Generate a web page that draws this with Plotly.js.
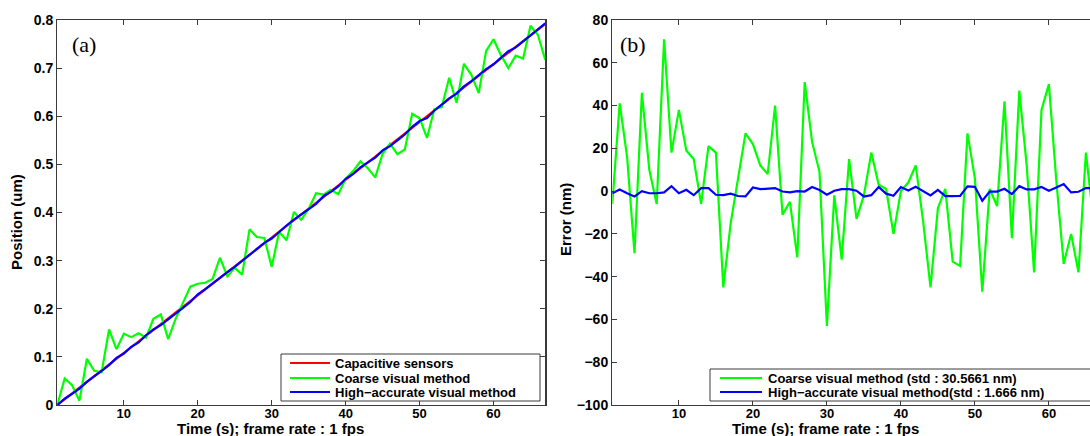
<!DOCTYPE html>
<html><head><meta charset="utf-8">
<script src="https://cdn.plot.ly/plotly-3.0.1.min.js"></script>
<style>html,body{margin:0;padding:0;overflow:hidden;background:#fff;width:1090px;height:436px}#chart{width:1110px;height:436px}</style>
</head><body><div id="chart"></div>
<script>
// ---- data ----
const time = [1,2,3,4,5,6,7,8,9,10,11,12,13,14,15,16,17,18,19,20,21,22,23,24,25,26,27,28,29,30,31,32,33,34,35,36,37,38,39,40,41,42,43,44,45,46,47,48,49,50,51,52,53,54,55,56,57,58,59,60,61,62,63,64,65,66,67];

// (a) positions in um
const capacitive = [0.000,0.012,0.024,0.036,0.048,0.060,0.072,0.084,0.096,0.108,0.120,0.132,0.144,0.156,0.168,0.180,0.192,0.204,0.216,0.228,0.240,0.252,0.264,0.276,0.288,0.300,0.312,0.324,0.336,0.348,0.360,0.372,0.384,0.396,0.408,0.420,0.432,0.444,0.456,0.468,0.480,0.492,0.504,0.516,0.528,0.540,0.552,0.564,0.576,0.588,0.600,0.612,0.624,0.636,0.648,0.660,0.672,0.684,0.696,0.708,0.720,0.732,0.744,0.756,0.768,0.780,0.792];
const coarsePos = [0.000,0.055,0.041,0.009,0.096,0.071,0.068,0.157,0.116,0.148,0.141,0.149,0.140,0.179,0.188,0.137,0.179,0.211,0.246,0.252,0.254,0.262,0.306,0.267,0.285,0.271,0.365,0.349,0.347,0.287,0.360,0.342,0.401,0.385,0.408,0.440,0.437,0.447,0.438,0.470,0.486,0.506,0.492,0.473,0.522,0.543,0.521,0.531,0.605,0.596,0.555,0.615,0.619,0.680,0.628,0.709,0.686,0.648,0.736,0.760,0.727,0.700,0.726,0.720,0.788,0.769,0.717];
const highPos = [0.000,0.013,0.023,0.034,0.048,0.059,0.071,0.083,0.098,0.107,0.121,0.130,0.145,0.157,0.166,0.178,0.191,0.202,0.214,0.230,0.241,0.253,0.265,0.276,0.287,0.300,0.312,0.326,0.337,0.346,0.360,0.373,0.385,0.396,0.406,0.418,0.434,0.443,0.454,0.470,0.480,0.494,0.504,0.514,0.529,0.538,0.550,0.562,0.578,0.590,0.596,0.612,0.624,0.637,0.647,0.662,0.673,0.685,0.698,0.708,0.722,0.735,0.743,0.756,0.769,0.781,0.793];

// (b) errors in nm
const coarseErr = [-6,41,16,-29,46,10,-6,71,18,38,19,15,-6,21,18,-45,-15,5,27,22,12,8,40,-11,-5,-31,51,23,9,-63,-2,-32,15,-13,-2,18,3,1,-20,0,4,12,-14,-45,-8,1,-33,-35,27,6,-47,1,-7,42,-22,47,12,-38,38,50,5,-34,-20,-38,18,-13,-75];
const highErr = [-1,0.8,-1,-2.5,0,-1,-1,-0.6,2.3,-1,0.6,-1.9,1.4,1.4,-1.7,-1.9,-1.2,-2.3,-2.5,1.7,0.9,1.1,1.4,-0.2,-0.6,0,-0.2,1.9,0.5,-1.7,0.2,0.9,0.9,0.2,-2.5,-1.9,1.9,-1.2,-2.2,1.9,0.3,2,-0.2,-2,0.6,-2.3,-2.3,-2.2,2.2,2,-4.5,-0.2,-0.2,1.1,-1.4,2.3,0.8,0.8,1.9,0.2,1.7,3.3,-0.6,-0.3,1.4,1.4,1];

const namesA = ['Capacitive sensors','Coarse visual method','High\u2212accurate visual method'];
const namesB = ['Coarse visual method (std : 30.5661 nm)','High\u2212accurate visual method(std : 1.666 nm)'];
const xTitle = 'Time (s); frame rate : 1 fps';
const yTitleA = 'Position (um)';
const yTitleB = 'Error (nm)';
const panelLabels = ['(a)','(b)'];
const xTicks = [10,20,30,40,50,60];

// ---- styling ----
const RED='rgb(255,0,0)', GREEN='rgb(0,255,0)', BLUE='rgb(0,0,255)';
const W=1110, H=436;
const px = x => x/W, py = y => 1 - y/H;
const FONT = 'Liberation Sans, Arial, Helvetica, sans-serif';
const LW = 2.2;

const traces = [
  {x:time, y:capacitive, xaxis:'x', yaxis:'y', mode:'lines', line:{color:RED,width:LW}, name:namesA[0]},
  {x:time, y:coarsePos, xaxis:'x', yaxis:'y', mode:'lines', line:{color:GREEN,width:LW}, name:namesA[1]},
  {x:time, y:highPos, xaxis:'x', yaxis:'y', mode:'lines', line:{color:BLUE,width:LW}, name:namesA[2]},
  {x:time, y:coarseErr, xaxis:'x2', yaxis:'y2', mode:'lines', line:{color:GREEN,width:LW}, name:namesB[0]},
  {x:time, y:highErr, xaxis:'x2', yaxis:'y2', mode:'lines', line:{color:BLUE,width:LW}, name:namesB[1]}
];

const axBase = {
  showgrid:false, zeroline:false, showline:true, linecolor:'#3a3a3a', linewidth:1.3,
  mirror:'ticks', ticks:'inside', ticklen:5, tickwidth:1, tickcolor:'#3a3a3a',
  tickfont:{family:FONT, size:14, color:'#000', weight:'bold'}, fixedrange:true
};
const xTickFont = {family:FONT, size:13, color:'#000', weight:'bold'};

const layout = {
  width:W, height:H, margin:{l:0,r:0,t:0,b:0}, paper_bgcolor:'#fff', plot_bgcolor:'#fff',
  showlegend:false,
  xaxis: Object.assign({}, axBase, {domain:[px(57.3), px(545.3)], range:[1,67], tickvals:xTicks, anchor:'y', ticklabelstandoff:-4, tickfont:xTickFont}),
  yaxis: Object.assign({}, axBase, {domain:[py(405), py(20)], range:[0,0.8], dtick:0.1, anchor:'x'}),
  xaxis2: Object.assign({}, axBase, {domain:[px(612.3), px(1100.7)], range:[1,67], tickvals:xTicks, anchor:'y2', ticklabelstandoff:-4, tickfont:xTickFont}),
  yaxis2: Object.assign({}, axBase, {domain:[py(405), py(20)], range:[-100,80], dtick:20, anchor:'x2'}),
  shapes: [],
  annotations: []
};

function ann(text, x, y, opts){
  return Object.assign({text:text, x:px(x), y:py(y), xref:'paper', yref:'paper', showarrow:false,
    xanchor:'center', yanchor:'middle', font:{family:FONT, size:15, color:'#000', weight:'bold'}}, opts||{});
}
// axis titles
layout.annotations.push(ann(xTitle, 270, 428, {yanchor:'middle'}));
layout.annotations.push(ann(xTitle, 825, 428, {yanchor:'middle'}));
layout.annotations.push(ann(yTitleA, 17, 222, {textangle:-90}));
layout.annotations.push(ann(yTitleB, 565, 220, {textangle:-90}));
// panel labels
layout.annotations.push(ann(panelLabels[0], 84, 44, {font:{family:'Liberation Serif, Times New Roman, serif', size:22, color:'#000'}, bgcolor:'#fff'}));
layout.annotations.push(ann(panelLabels[1], 633, 44, {font:{family:'Liberation Serif, Times New Roman, serif', size:22, color:'#000'}, bgcolor:'#fff'}));

// legends drawn manually
function legend(x0, x1, y0, y1, lineX0, lineX1, textX, rows, names, colors){
  layout.shapes.push({type:'rect', xref:'paper', yref:'paper', x0:px(x0), x1:px(x1), y0:py(y1), y1:py(y0),
    line:{color:'#3a3a3a', width:1}, fillcolor:'#fff', layer:'above'});
  names.forEach((n,i)=>{
    layout.shapes.push({type:'line', xref:'paper', yref:'paper', x0:px(lineX0), x1:px(lineX1), y0:py(rows[i]), y1:py(rows[i]),
      line:{color:colors[i], width:LW}, layer:'above'});
    layout.annotations.push(ann(n, textX, rows[i], {xanchor:'left', font:{family:FONT, size:13, color:'#000', weight:'bold'}}));
  });
}
legend(281, 540, 354, 401, 290, 330, 333, [363, 378, 392], namesA, [RED, GREEN, BLUE]);
legend(710, 1096, 369, 401, 720, 762, 766, [378, 392], namesB, [GREEN, BLUE]);

Plotly.newPlot('chart', traces, layout, {displayModeBar:false, staticPlot:true});
</script>
</body></html>
